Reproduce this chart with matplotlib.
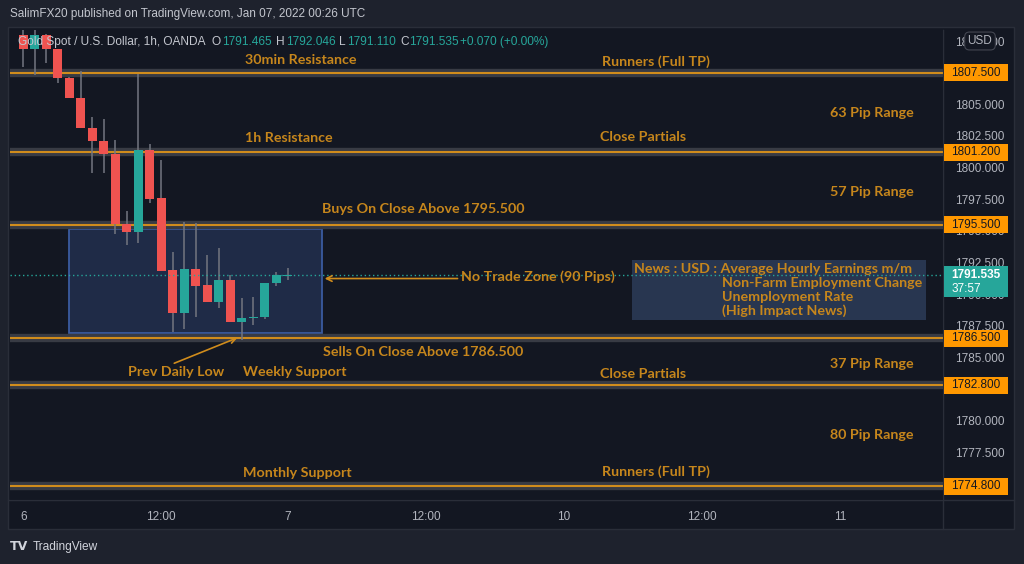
import matplotlib
matplotlib.use('Agg')
import matplotlib.pyplot as plt
from matplotlib.patches import Rectangle
from matplotlib.transforms import blended_transform_factory
import numpy as np

# hourly candles, Jan 6 00:00 -> Jan 7 00:00 (bar index)
opens = [1810.48, 1809.35, 1810.48, 1809.37, 1807.10, 1805.52, 1803.15, 1802.12,
         1801.10, 1795.52, 1794.93, 1801.39, 1797.57, 1791.90, 1788.53, 1791.98,
         1790.72, 1789.40, 1791.11, 1787.77, 1788.08, 1788.16, 1790.85, 1791.465]
highs = [1811.00, 1811.00, 1810.60, 1809.37, 1807.20, 1807.63, 1803.97, 1803.82,
         1802.18, 1796.57, 1807.37, 1801.84, 1800.60, 1793.35, 1795.67, 1795.59,
         1793.09, 1793.62, 1791.51, 1789.67, 1789.79, 1790.85, 1791.72, 1792.046]
lows = [1807.93, 1807.32, 1808.24, 1806.66, 1805.48, 1803.10, 1799.55, 1799.60,
        1794.75, 1793.88, 1794.06, 1797.20, 1791.85, 1787.03, 1787.22, 1788.16,
        1789.35, 1788.92, 1787.77, 1786.37, 1787.56, 1788.00, 1790.66, 1791.110]
closes = [1809.35, 1810.48, 1809.35, 1807.06, 1805.48, 1803.10, 1802.10, 1801.07,
          1795.52, 1794.91, 1801.39, 1797.52, 1791.85, 1788.53, 1791.98, 1790.66,
          1789.40, 1791.11, 1787.77, 1788.08, 1788.21, 1790.85, 1791.51, 1791.535]

levels = [1807.5, 1801.2, 1795.5, 1786.5, 1782.8, 1774.8]
last_price = 1791.535
countdown = '37:57'

time_ticks = [0, 12, 23, 35, 47, 59, 71]
time_labels = ['6', '12:00', '7', '12:00', '10', '12:00', '11']
# ticks hidden under the level labels are left out
price_ticks = [1777.5, 1780.0, 1785.0, 1787.5, 1790.0, 1792.5, 1795.0,
               1797.5, 1800.0, 1802.5, 1805.0, 1810.0]

BG = '#131722'
OUTER = '#1e222d'
ORANGE_TXT = '#c6861c'
ORANGE_LINE = '#d08c1c'
BAND = '#383b44'
UP = '#26a69a'
DOWN = '#ef5350'
WICK = '#737680'
AXTXT = '#b2b5be'

fig = plt.figure(figsize=(10.24, 5.64), dpi=100, facecolor=OUTER)


def fx(px):
    return px / 1024


def fy(py):
    return 1 - py / 564


# chart panel
fig.patches.append(Rectangle((fx(8), fy(529)), fx(1014) - fx(8), fy(27) - fy(529),
                             transform=fig.transFigure, facecolor=BG,
                             edgecolor='#2a2e39', lw=1, zorder=-5))

ax = fig.add_axes([fx(10), fy(500), fx(943) - fx(10), fy(30) - fy(500)])
ax.set_zorder(1)
ax.set_facecolor(BG)
ax.set_xlim(-1.16, 79.97)
ax.set_ylim(1773.72, 1810.88)
for s in ['top', 'left']:
    ax.spines[s].set_visible(False)
ax.spines['right'].set_color('#2a2e39')
ax.spines['bottom'].set_color('#2a2e39')

# separator lines through axis areas
fig.add_artist(plt.Line2D([fx(943), fx(943)], [fy(529), fy(30)], color='#2a2e39', lw=1, zorder=-1))
fig.add_artist(plt.Line2D([fx(8), fx(1014)], [fy(500), fy(500)], color='#2a2e39', lw=1, zorder=-1))

# no trade zone box
ax.add_patch(Rectangle((3.97, 1786.9), 26.0 - 3.97, 1795.12 - 1786.9,
                       facecolor='#1f2b47', edgecolor='#3a5ba0', lw=1.3, zorder=1))

# news box
ax.add_patch(Rectangle((52.93, 1787.95), 78.5 - 52.93, 1792.69 - 1787.95,
                       facecolor='#283650', edgecolor='none', zorder=1))

# level lines
for lv in levels:
    ax.axhline(lv, color=BAND, lw=6, zorder=2, solid_capstyle='butt')
    ax.axhline(lv, color=ORANGE_LINE, lw=1.5, zorder=2.1)

# candles
x = np.arange(len(opens))
o = np.array(opens)
c = np.array(closes)
cols = [UP if cc >= oo else DOWN for oo, cc in zip(o, c)]
ax.vlines(x, lows, highs, color=WICK, lw=1.1, zorder=3)
hgt = np.maximum(np.abs(c - o), 0.08)
ax.bar(x, hgt, bottom=np.minimum(o, c), width=0.78, color=cols, zorder=4)

# last price line
ax.axhline(last_price, color=UP, lw=1, ls=(0, (1, 2)), zorder=5)

# annotations
fnt = dict(family=['Lato', 'DejaVu Sans'], fontweight='bold', fontsize=10.3, color=ORANGE_TXT)
notes = [
    (24.1, 1808.5, '30min Resistance', 'center'),
    (55.0, 1808.35, 'Runners (Full TP)', 'center'),
    (73.8, 1804.31, '63 Pip Range', 'center'),
    (23.1, 1802.34, '1h Resistance', 'center'),
    (53.9, 1802.42, 'Close Partials', 'center'),
    (73.8, 1798.07, '57 Pip Range', 'center'),
    (34.8, 1796.73, 'Buys On Close Above 1795.500', 'center'),
    (38.1, 1791.36, 'No Trade Zone (90 Pips)', 'left'),
    (34.8, 1785.42, 'Sells On Close Above 1786.500', 'center'),
    (73.8, 1784.47, '37 Pip Range', 'center'),
    (13.3, 1783.84, 'Prev Daily Low', 'center'),
    (23.6, 1783.84, 'Weekly Support', 'center'),
    (53.9, 1783.68, 'Close Partials', 'center'),
    (73.8, 1778.86, '80 Pip Range', 'center'),
    (23.8, 1775.86, 'Monthly Support', 'center'),
    (55.0, 1775.94, 'Runners (Full TP)', 'center'),
]
for nx, ny, txt, ha in notes:
    ax.text(nx, ny, txt, ha=ha, va='center', zorder=6, **fnt)

news_first = 'News : USD : Average Hourly Earnings m/m'
news_rest = ['Non-Farm Employment Change', 'Unemployment Rate', '(High Impact News)']
ax.text(53.1, 1791.98, news_first, ha='left', va='center', zorder=6, **fnt)
for i, t in enumerate(news_rest):
    ax.text(60.76, 1790.87 - i * 1.105, t, ha='left', va='center', zorder=6, **fnt)

ax.annotate('', xy=(25.96, 1791.23), xytext=(38.0, 1791.23),
            arrowprops=dict(arrowstyle='->', color=ORANGE_LINE, lw=1.2), zorder=6)
ax.annotate('', xy=(18.84, 1786.63), xytext=(12.9, 1784.45),
            arrowprops=dict(arrowstyle='->', color=ORANGE_LINE, lw=1.2), zorder=6)

# axes ticks
ax.set_xticks(time_ticks)
ax.set_xticklabels(time_labels)
ax.set_yticks(price_ticks)
ax.set_yticklabels(['%.3f' % p for p in price_ticks])
ax.tick_params(axis='y', left=False, right=False, labelleft=False, labelright=True,
               pad=5, labelsize=8.5, labelcolor=AXTXT)
ax.tick_params(axis='x', length=0, pad=8, labelsize=8.5, labelcolor=AXTXT)
for lab in ax.get_xticklabels() + ax.get_yticklabels():
    lab.set_family(['Liberation Sans', 'DejaVu Sans'])

# price labels on the axis
tr = blended_transform_factory(ax.transAxes, ax.transData)
bw = 64 / 933
for lv in levels:
    ax.add_patch(Rectangle((1.001, lv - 0.67), bw, 1.34, transform=tr, facecolor='#ff9800',
                           edgecolor='none', clip_on=False, zorder=7))
    ax.text(1.001 + bw / 2, lv, '%.3f' % lv, transform=tr, ha='center', va='center',
            fontsize=8.5, family=['Liberation Sans', 'DejaVu Sans'], color='#131722',
            clip_on=False, zorder=8)

ax.add_patch(Rectangle((1.001, 1789.77), bw, 1792.22 - 1789.77, transform=tr,
                       facecolor=UP, edgecolor='none', clip_on=False, zorder=7))
ax.text(1.001 + 0.008, 1791.535, '%.3f' % last_price, transform=tr, ha='left', va='center',
        fontsize=8.5, fontweight='bold', family=['Liberation Sans', 'DejaVu Sans'],
        color='white', clip_on=False, zorder=8)
ax.text(1.001 + 0.008, 1790.4, countdown, transform=tr, ha='left', va='center',
        fontsize=8.5, family=['Liberation Sans', 'DejaVu Sans'],
        color='white', clip_on=False, zorder=8)

# USD badge
fig.text(fx(980), fy(41), 'USD', ha='center', va='center', fontsize=8.5,
         family=['Liberation Sans', 'DejaVu Sans'], color=AXTXT, zorder=9,
         bbox=dict(boxstyle='round,pad=0.25,rounding_size=0.4', fc=BG, ec='#434651', lw=0.8))

# header + legend
fig.text(fx(10), fy(14), 'SalimFX20 published on TradingView.com, Jan 07, 2022 00:26 UTC',
         ha='left', va='center', fontsize=8.5, family=['Liberation Sans', 'DejaVu Sans'],
         color='#c3c6ce')
leg = [
    (18, 'Gold Spot / U.S. Dollar, 1h, OANDA', '#c3c6ce'),
    (212, 'O', '#c3c6ce'), (222, '1791.465', UP),
    (276, 'H', '#c3c6ce'), (286, '1792.046', UP),
    (339, 'L', '#c3c6ce'), (347, '1791.110', UP),
    (400, 'C', '#c3c6ce'), (409, '1791.535', UP),
    (460, '+0.070 (+0.00%)', UP),
]
for px, t, col in leg:
    fig.text(fx(px), fy(42), t, ha='left', va='center', fontsize=8.6,
             family=['Liberation Sans', 'DejaVu Sans'], color=col, zorder=9)

fig.text(fx(10), fy(547), 'TV', ha='left', va='center', fontsize=9, fontweight='bold',
         family=['DejaVu Sans'], color='#d1d4dc')
fig.text(fx(33), fy(547), 'TradingView', ha='left', va='center', fontsize=8.6,
         family=['Liberation Sans', 'DejaVu Sans'], color='#d1d4dc')

fig.savefig('out.png', dpi=100, facecolor=OUTER)
